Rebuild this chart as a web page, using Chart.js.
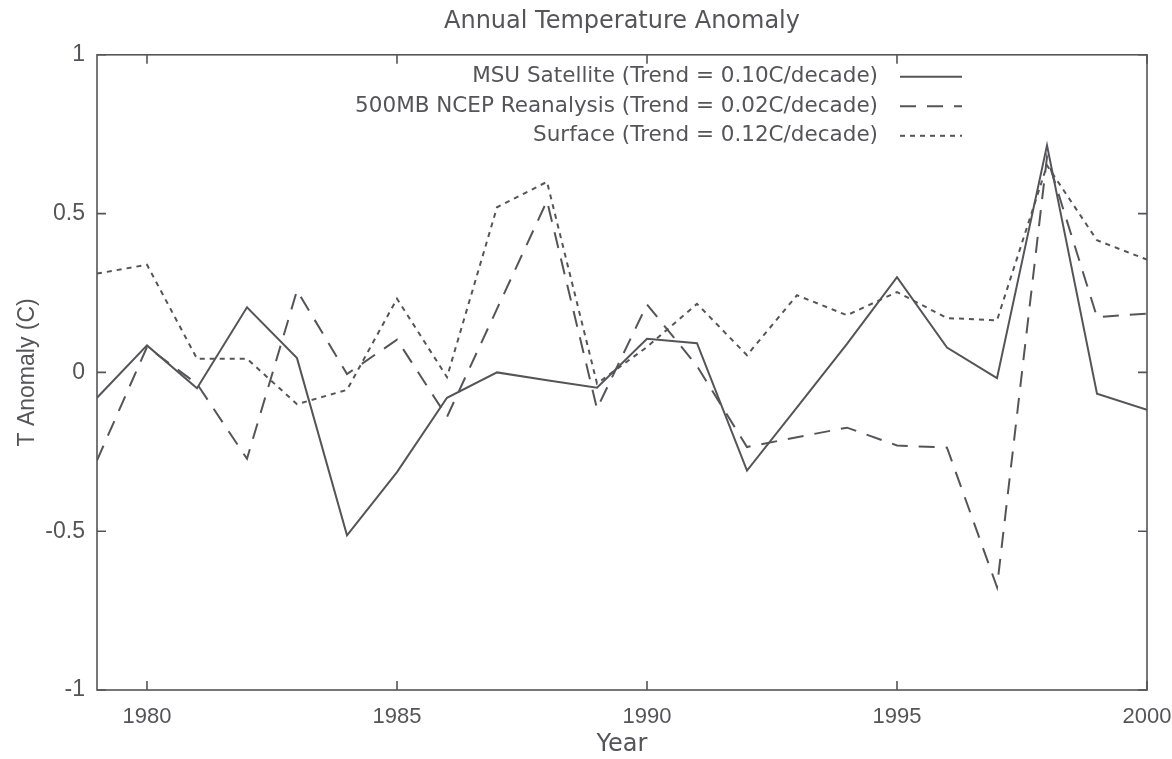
<!DOCTYPE html>
<html>
<head>
<meta charset="utf-8">
<script src="https://cdn.jsdelivr.net/npm/chart.js@4.4.1/dist/chart.umd.min.js"></script>
<style>
  html, body { margin: 0; padding: 0; background: #fff; }
  #wrap { width: 1172px; height: 759px; }
</style>
</head>
<body>
<div id="wrap"><canvas id="myChart" width="1172" height="759"></canvas></div>
<script>
const years = [1979, 1980, 1981, 1982, 1983, 1984, 1985, 1986, 1987, 1988, 1989,
  1990, 1991, 1992, 1993, 1994, 1995, 1996, 1997, 1998, 1999, 2000];

const msu = [-0.08, 0.085, -0.05, 0.205, 0.045, -0.513, -0.314, -0.08, 0.0, -0.025, -0.048,
  0.106, 0.092, -0.309, -0.11, 0.09, 0.30, 0.078, -0.018, 0.715, -0.067, -0.118];

const ncep = [-0.277, 0.08, -0.036, -0.272, 0.258, -0.005, 0.103, -0.14, 0.2, 0.54, -0.114,
  0.214, 0.02, -0.235, -0.204, -0.174, -0.23, -0.237, -0.676, 0.678, 0.174, 0.185];

const surface = [0.311, 0.339, 0.043, 0.043, -0.10, -0.055, 0.232, -0.015, 0.52, 0.60, -0.035,
  0.08, 0.216, 0.054, 0.243, 0.18, 0.253, 0.171, 0.164, 0.652, 0.416, 0.355];

const xTicks = [1980, 1985, 1990, 1995, 2000];
const yTicks = [-1, -0.5, 0, 0.5, 1];

const seriesLabels = [
  'MSU Satellite (Trend = 0.10C/decade)',
  '500MB NCEP Reanalysis (Trend = 0.02C/decade)',
  'Surface (Trend = 0.12C/decade)'
];

const ink = '#555559';
const font = "'Liberation Sans', Arial, sans-serif";
const wideFont = "'DejaVu Sans', sans-serif";

const toPoints = (vals) => years.map((yr, i) => ({x: yr, y: vals[i]}));

const makeSet = (label, vals, dash) => ({
  label: label,
  data: toPoints(vals),
  borderColor: ink,
  backgroundColor: ink,
  borderWidth: 2,
  borderDash: dash,
  pointRadius: 0,
  tension: 0,
  fill: false,
});

// gnuplot-like frame with inward ticks, and the key inside the plot
const framePlugin = {
  id: 'frame',
  afterDraw(chart) {
    const {ctx, chartArea: a, scales} = chart;
    ctx.save();
    ctx.strokeStyle = ink;
    ctx.lineWidth = 1.6;
    ctx.setLineDash([]);
    ctx.strokeRect(a.left, a.top, a.right - a.left, a.bottom - a.top);
    const t = 9;
    ctx.beginPath();
    xTicks.forEach(v => {
      const px = scales.x.getPixelForValue(v);
      ctx.moveTo(px, a.bottom); ctx.lineTo(px, a.bottom - t);
      ctx.moveTo(px, a.top); ctx.lineTo(px, a.top + t);
    });
    yTicks.forEach(v => {
      const py = scales.y.getPixelForValue(v);
      ctx.moveTo(a.left, py); ctx.lineTo(a.left + t, py);
      ctx.moveTo(a.right, py); ctx.lineTo(a.right - t, py);
    });
    ctx.stroke();

    // key
    ctx.font = '21.5px ' + wideFont;
    ctx.fillStyle = ink;
    ctx.textAlign = 'right';
    ctx.textBaseline = 'middle';
    chart.data.datasets.forEach((ds, i) => {
      const y = a.top + 22 + i * 29.5;
      const textRight = a.right - 269;
      ctx.fillText(ds.label, textRight, y);
      ctx.beginPath();
      ctx.lineWidth = 2;
      ctx.setLineDash(ds.borderDash || []);
      ctx.moveTo(textRight + 22, y);
      ctx.lineTo(textRight + 84, y);
      ctx.stroke();
    });
    ctx.restore();
  }
};

const ctx = document.getElementById('myChart').getContext('2d');

new Chart(ctx, {
  type: 'line',
  data: {
    datasets: [
      makeSet(seriesLabels[0], msu, []),
      makeSet(seriesLabels[1], ncep, [16, 11]),
      makeSet(seriesLabels[2], surface, [5, 5]),
    ]
  },
  options: {
    responsive: false,
    animation: false,
    layout: { padding: { left: 14, right: 0, top: 0, bottom: 0 } },
    plugins: {
      legend: { display: false },
      tooltip: { enabled: false },
      title: {
        display: true,
        fullSize: false,
        text: 'Annual Temperature Anomaly',
        color: ink,
        font: { family: wideFont, size: 24, weight: 'normal' },
        padding: { top: 7, bottom: 19 },
      },
    },
    scales: {
      x: {
        type: 'linear',
        min: 1979,
        max: 2000,
        afterBuildTicks: (scale) => { scale.ticks = xTicks.map(v => ({value: v})); },
        afterFit: (scale) => {
          scale.height = 69;
          scale.paddingLeft = 0;
          scale.paddingRight = 25;
        },
        grid: { display: false, drawTicks: false },
        border: { display: false },
        ticks: {
          color: ink,
          padding: 14,
          maxRotation: 0,
          font: { family: font, size: 22 },
          callback: (v) => String(v),
        },
        title: {
          display: true,
          text: 'Year',
          color: ink,
          font: { family: wideFont, size: 24 },
          padding: { top: 0, bottom: 0 },
        },
      },
      y: {
        min: -1,
        max: 1,
        afterBuildTicks: (scale) => { scale.ticks = yTicks.map(v => ({value: v})); },
        afterFit: (scale) => { scale.width = 83; },
        grid: { display: false, drawTicks: false },
        border: { display: false },
        ticks: {
          color: ink,
          padding: 12,
          font: { family: font, size: 23 },
          callback: (v) => String(v),
        },
        title: {
          display: true,
          text: 'T Anomaly (C)',
          color: ink,
          font: { family: font, size: 23 },
          padding: { top: 0, bottom: 0 },
        },
      },
    },
  },
  plugins: [framePlugin],
});
</script>
</body>
</html>
